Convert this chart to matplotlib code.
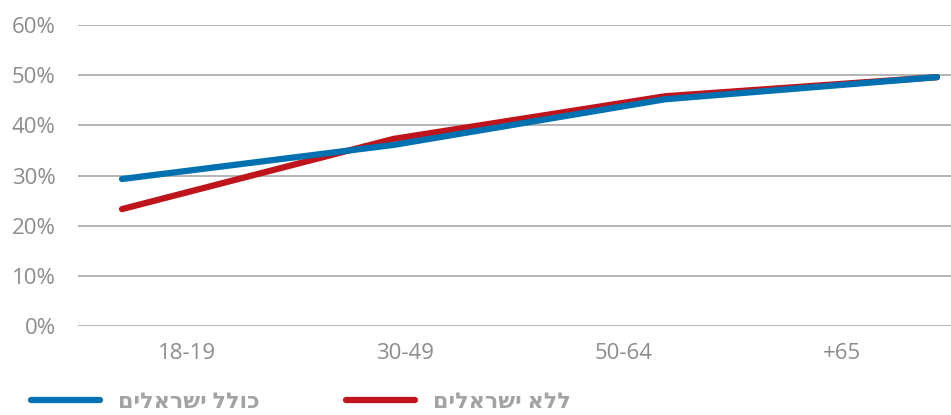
import matplotlib
matplotlib.use("Agg")
import matplotlib.pyplot as plt
from matplotlib.ticker import PercentFormatter

# קבוצות גיל
gilim = ['18-19', '30-49', '50-64', '+65']
kolel_israelim = [0.293, 0.361, 0.452, 0.496]
lelo_israelim = [0.233, 0.373, 0.458, 0.496]
yticks = [0, 0.1, 0.2, 0.3, 0.4, 0.5, 0.6]

# matplotlib לא הופך טקסט מימין לשמאל, לכן הופכים ידנית
tavit_kolel = 'כולל ישראלים'[::-1]
tavit_lelo = 'ללא ישראלים'[::-1]

plt.rcParams['font.family'] = ['Open Sans', 'DejaVu Sans']
grey = '#8c8c8c'

fig = plt.figure(figsize=(9.51, 4.15), dpi=100)
ax = fig.add_axes([78 / 951, 1 - 326 / 415, 873 / 951, 301 / 415])

x = list(range(len(gilim)))
ax.plot(x, lelo_israelim, color='#c0141c', lw=4.5, solid_capstyle='round',
        label=tavit_lelo, zorder=3)
ax.plot(x, kolel_israelim, color='#0071b0', lw=4.5, solid_capstyle='round',
        label=tavit_kolel, zorder=4)

lo, hi = -44 / 271.67, 3 + 14 / 271.67
ax.set_xlim(lo, hi)
ax.set_ylim(0, 0.6)
ax.set_yticks(yticks)
ax.yaxis.set_major_formatter(PercentFormatter(1.0, decimals=0))
band = (hi - lo) / len(gilim)
ax.set_xticks([lo + band * (i + 0.5) for i in range(len(gilim))])
ax.set_xticklabels(gilim)

ax.grid(axis='y', color='#b4b4b4', lw=1.4)
ax.set_axisbelow(True)
for s in ax.spines.values():
    s.set_visible(False)
ax.tick_params(axis='both', length=0, labelsize=16, labelcolor=grey)
ax.tick_params(axis='y', pad=16)
ax.tick_params(axis='x', pad=12)

h, l = ax.get_legend_handles_labels()
fig.legend([h[1], h[0]], [l[1], l[0]], loc='center left',
           bbox_to_anchor=(31 / 951, 1 - 402 / 415), ncol=2, frameon=False,
           prop={'size': 16, 'weight': 'bold'}, labelcolor='#a3a3a3',
           handlelength=3.1, columnspacing=3.9, handletextpad=0.8,
           borderpad=0, borderaxespad=0)

fig.savefig('out.png', dpi=100)
